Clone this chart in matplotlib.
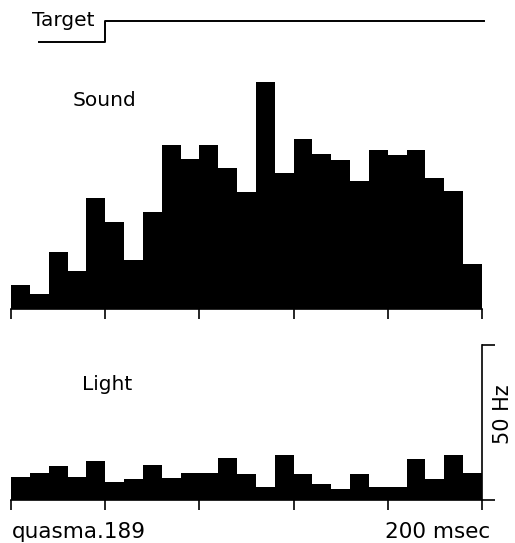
import numpy as np
import matplotlib.pyplot as plt

# 10 ms bins over 250 ms, rates in Hz
bin_ms = 10
edges = np.arange(0, 250, bin_ms)

sound_hz = [7.7, 4.7, 18.3, 12.4, 35.7, 28.0, 15.9, 31.3, 52.9, 48.4,
            52.9, 45.4, 37.7, 73.3, 43.8, 54.8, 50.0, 48.1, 41.2, 51.3,
            49.7, 51.3, 42.3, 38.0, 14.5]
light_hz = [7.5, 8.7, 11.0, 7.4, 12.7, 5.7, 6.7, 11.3, 7.1, 8.7,
            8.7, 13.5, 8.4, 4.1, 14.4, 8.4, 5.2, 3.6, 8.4, 4.1,
            4.1, 13.3, 6.9, 14.4, 8.6]

# target trace: off before onset, on afterwards
target_t = [15, 50, 50, 251]
target_v = [0, 0, 1, 1]

x_ticks = [0, 50, 100, 150, 200, 250]

W, H = 515, 543
fig = plt.figure(figsize=(W / 100, H / 100), dpi=100)
plt.rcParams['font.family'] = 'DejaVu Sans'


def px_axes(left, top, right, bottom):
    return fig.add_axes([left / W, 1 - bottom / H, (right - left) / W, (bottom - top) / H])


def style_hist(ax):
    for s in ['top', 'left', 'right']:
        ax.spines[s].set_visible(False)
    ax.spines['bottom'].set_linewidth(1.2)
    ax.set_xlim(0, 250)
    ax.set_xticks(x_ticks)
    ax.set_xticklabels([])
    ax.tick_params(axis='x', direction='out', length=7, width=1.2)
    ax.set_yticks([])
    ax.patch.set_alpha(0)


# Sound histogram, 3.1 px per Hz
ax_s = px_axes(11, 61, 482, 309)
ax_s.bar(edges, sound_hz, width=bin_ms, align='edge', color='black', linewidth=0)
ax_s.set_ylim(0, 80)
style_hist(ax_s)

# Light histogram with 50 Hz scale bar on the right
ax_l = px_axes(11, 345, 482, 500)
ax_l.bar(edges, light_hz, width=bin_ms, align='edge', color='black', linewidth=0)
ax_l.set_ylim(0, 50)
style_hist(ax_l)
ax_l.spines['right'].set_visible(True)
ax_l.spines['right'].set_linewidth(1.2)
ax_l.yaxis.tick_right()
ax_l.set_yticks([0, 50])
ax_l.set_yticklabels([])
ax_l.tick_params(axis='y', direction='out', length=9, width=1.2)

# target step trace
ax_t = px_axes(11, 21, 482, 42)
ax_t.plot(target_t, target_v, color='black', lw=1.4, clip_on=False)
ax_t.set_xlim(0, 250)
ax_t.set_ylim(0, 1)
ax_t.axis('off')

fig.text(32 / W, 1 - 21 / H, 'Target', fontsize=14.5, ha='left', va='center')
fig.text(105 / W, 1 - 101 / H, 'Sound', fontsize=14.5, ha='center', va='center')
fig.text(107 / W, 1 - 384 / H, 'Light', fontsize=14.5, ha='center', va='center')
fig.text(12 / W, 1 - 532 / H, 'quasma.189', fontsize=15.5, ha='left', va='center')
fig.text(490 / W, 1 - 532 / H, '200 msec', fontsize=15.5, ha='right', va='center')
fig.text(503 / W, 1 - 414 / H, '50 Hz', fontsize=15, rotation=90,
         ha='center', va='center')

fig.savefig('out.png', dpi=100)
